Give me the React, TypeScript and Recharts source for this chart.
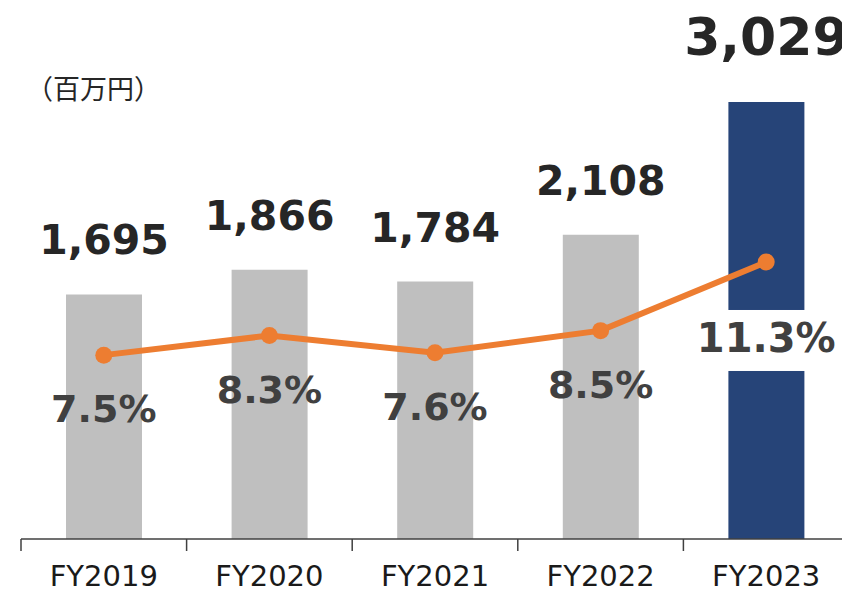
import React from 'react';
import { ComposedChart, Bar, Line, XAxis, YAxis, Cell, LabelList } from 'recharts';

const categories = ['FY2019', 'FY2020', 'FY2021', 'FY2022', 'FY2023'];
const sales = [1695, 1866, 1784, 2108, 3029];
const marginPct = [7.5, 8.3, 7.6, 8.5, 11.3];
const unitLabel = '（百万円）';

const data = categories.map((c, i) => ({ name: c, sales: sales[i], pct: marginPct[i] }));

const CHART_W = 870;
const CHART_H = 592;
const M = { top: 34, right: 21, bottom: 0, left: 21 };
const PLOT_W = CHART_W - M.left - M.right;
const BAND = PLOT_W / categories.length;
const LAST = categories.length - 1;

const GRAY = '#BFBFBF';
const NAVY = '#264478';
const ORANGE = '#ED7D31';

const ValueLabel = (props: any) => {
  const { x, y, width, value, index } = props;
  const big = index === LAST;
  return (
    <text
      x={x + width / 2}
      y={y - (big ? 47 : 40)}
      textAnchor="middle"
      fontFamily="DejaVu Sans"
      fontWeight="bold"
      fontSize={big ? 52 : 41}
      fill="#262626"
    >
      {Number(value).toLocaleString('en-US')}
    </text>
  );
};

const PctLabel = (props: any) => {
  const { x, y, value, index } = props;
  const big = index === LAST;
  return (
    <g>
      {big && <rect x={x - 45} y={y + 48} width={90} height={61} fill="#FFFFFF" />}
      <text
        x={x}
        y={y + (big ? 90 : 67)}
        textAnchor="middle"
        fontFamily="DejaVu Sans"
        fontWeight="bold"
        fontSize={big ? 40 : 38}
        fill="#404040"
      >
        {`${Number(value).toFixed(1)}%`}
      </text>
    </g>
  );
};

const Tick = (props: any) => {
  const { x, y, payload, index } = props;
  const x0 = x - BAND / 2;
  const x1 = x + BAND / 2;
  return (
    <g>
      <line x1={x0} x2={x0} y1={y} y2={y + 12} stroke="#404040" strokeWidth={1.5} />
      {index === LAST && <line x1={x1} x2={x1} y1={y} y2={y + 12} stroke="#404040" strokeWidth={1.5} />}
      <text x={x} y={y + 47} textAnchor="middle" fontFamily="DejaVu Sans" fontSize={29} fill="#1a1a1a">
        {payload.value}
      </text>
    </g>
  );
};

export default function App() {
  return (
    <div style={{ position: 'fixed', left: 0, top: 0, width: 842, height: 592, overflow: 'hidden', background: '#fff' }}>
      <ComposedChart width={CHART_W} height={CHART_H} data={data} margin={M}>
        <XAxis
          dataKey="name"
          height={53}
          axisLine={{ stroke: '#404040', strokeWidth: 1.5 }}
          tickLine={false}
          tickSize={0}
          tickMargin={0}
          tick={<Tick />}
          interval={0}
        />
        <YAxis yAxisId="left" hide domain={[0, 3500]} />
        <YAxis yAxisId="right" hide domain={[0, 20.6]} orientation="right" />
        <Bar yAxisId="left" dataKey="sales" barSize={76} isAnimationActive={false}>
          {data.map((d, i) => (
            <Cell key={d.name} fill={i === LAST ? NAVY : GRAY} />
          ))}
          <LabelList dataKey="sales" content={<ValueLabel />} />
        </Bar>
        <Line
          yAxisId="right"
          dataKey="pct"
          stroke={ORANGE}
          strokeWidth={6}
          dot={{ r: 8.5, fill: ORANGE, stroke: 'none' }}
          activeDot={false}
          isAnimationActive={false}
        >
          <LabelList dataKey="pct" content={<PctLabel />} />
        </Line>
      </ComposedChart>
      <div
        style={{
          position: 'absolute',
          left: 26,
          top: 74,
          fontFamily: '"Noto Sans CJK JP"',
          fontSize: 27,
          lineHeight: '27px',
          color: '#262626',
          whiteSpace: 'nowrap',
        }}
      >
        {unitLabel}
      </div>
    </div>
  );
}
